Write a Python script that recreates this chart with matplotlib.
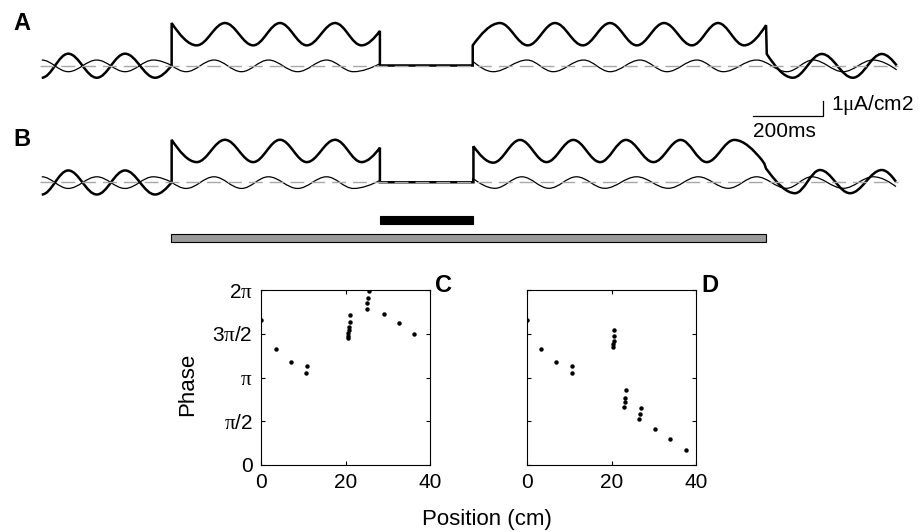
import numpy as np
import matplotlib
matplotlib.use('Agg')
import matplotlib.pyplot as plt
from matplotlib.path import Path
from matplotlib.patches import PathPatch

plt.rcParams['font.family'] = ['Liberation Sans', 'DejaVu Sans']
plt.rcParams['mathtext.fontset'] = 'custom'
plt.rcParams['mathtext.rm'] = 'Liberation Sans'
plt.rcParams['mathtext.it'] = 'Liberation Serif'

# ---- traces (time in ms, current in uA/cm2 relative to baseline) ----
# segment kinds: c = smooth half cycle, r = smooth start / steep end,
# d = steep start / smooth end, l = straight line
thickA_t = [5, 80, 161, 241, 326, 373, 373, 444, 524, 604, 680, 756, 836, 911, 963, 963,
            1226, 1226, 1303, 1382, 1459, 1538, 1615, 1691, 1768, 1847, 1921, 1995, 2057, 2059,
            2133, 2215, 2303, 2385, 2427]
thickA_i = [-0.85, 0.82, -0.85, 0.82, -0.85, 0.0, 2.95, 1.4, 2.95, 1.4, 2.95, 1.4, 2.95, 1.4, 2.4, 0.0,
            0.0, 1.4, 2.95, 1.4, 2.95, 1.4, 2.95, 1.4, 2.95, 1.4, 2.95, 1.4, 2.8, 0.8,
            -0.85, 0.8, -0.85, 0.8, 0.0]
thickA_k = 'cccc' + 'rld' + 'cccccc' + 'rlll' + 'd' + 'ccccccccc' + 'rld' + 'ccc' + 'r'

thinA_t = [5, 80, 161, 241, 321, 373, 414, 493, 571, 647, 730, 812, 888, 961, 963, 1226, 1226,
           1284, 1380, 1454, 1540, 1615, 1700, 1776, 1861, 1936, 2030, 2116, 2190, 2275, 2360, 2427]
thinA_i = [0.38, -0.43, 0.38, -0.43, 0.38, 0.0, -0.43, 0.38, -0.43, 0.38, -0.43, 0.38, -0.43, 0.1, 0.0, 0.0, 0.3,
           -0.43, 0.38, -0.43, 0.38, -0.43, 0.38, -0.43, 0.38, -0.43, 0.38, -0.43, 0.38, -0.43, 0.38, -0.3]
thin_k = 'cccc' + 'rd' + 'cccccc' + 'rlll' + 'd' + 'ccccccccccccc' + 'r'

thickB_t = [5, 80, 161, 241, 326, 373, 373, 444, 524, 604, 680, 756, 836, 911, 963, 963,
            1228, 1228, 1284, 1360, 1435, 1511, 1587, 1660, 1738, 1815, 1889, 1967, 2045, 2052,
            2057, 2068, 2139, 2210, 2295, 2385, 2425]
thickB_i = [-0.85, 0.82, -0.85, 0.82, -0.85, 0.0, 2.95, 1.4, 2.95, 1.4, 2.95, 1.4, 2.95, 1.4, 2.4, 0.0,
            0.0, 2.5, 1.36, 2.94, 1.4, 2.94, 1.4, 2.94, 1.4, 2.94, 1.4, 2.94, 1.55, 1.3,
            0.95, 0.6, -0.76, 0.85, -0.76, 0.85, 0.04]
thickB_k = 'cccc' + 'rld' + 'cccccc' + 'rll' + 'ld' + 'ccccccccc' + 'rlll' + 'd' + 'ccc' + 'r'

thinB_t = [5, 80, 161, 241, 321, 373, 414, 493, 571, 647, 730, 812, 888, 961, 963, 1226, 1226,
           1289, 1365, 1442, 1520, 1600, 1690, 1780, 1865, 1950, 2030, 2115, 2186, 2276, 2361, 2425]
thinB_i = [0.38, -0.43, 0.38, -0.43, 0.38, 0.0, -0.43, 0.38, -0.43, 0.38, -0.43, 0.38, -0.43, 0.1, 0.0, 0.0, 0.28,
           -0.42, 0.38, -0.42, 0.38, -0.42, 0.38, -0.42, 0.38, -0.42, 0.38, -0.42, 0.38, -0.42, 0.38, -0.3]

# field extents (ms)
short_field = [963, 1227]
long_field = [371, 2057]

# ---- phase precession data (position cm, phase in units of pi) ----
C_pos = [0, 3.5, 7.0, 10.8, 10.7,
         21.1, 21.0, 20.9, 20.8, 20.7, 20.6, 20.5,
         25.6, 25.4, 25.2, 25.0,
         29.0, 32.6, 36.3]
C_phase = [1.657, 1.329, 1.173, 1.128, 1.048,
           1.714, 1.638, 1.581, 1.543, 1.505, 1.478, 1.448,
           1.989, 1.905, 1.848, 1.783,
           1.726, 1.627, 1.497]
D_pos = [0, 3.3, 6.9, 10.7, 10.7,
         20.7, 20.6, 20.5, 20.4, 20.4,
         23.4, 23.2, 23.1, 23.0,
         27.0, 26.8, 26.6,
         30.3, 33.9, 37.6]
D_phase = [1.657, 1.329, 1.173, 1.128, 1.048,
           1.539, 1.474, 1.421, 1.383, 1.345,
           0.854, 0.770, 0.717, 0.667,
           0.655, 0.579, 0.522,
           0.408, 0.301, 0.175]

phase_ticks = [0, 0.5, 1, 1.5, 2]
phase_labels = ['0', r'$\pi$/2', r'$\pi$', r'3$\pi$/2', r'2$\pi$']
pos_ticks = [0, 20, 40]


def trace_path(t, v, kinds, shift):
    verts = [(t[0], v[0] + shift)]
    codes = [Path.MOVETO]
    for k, x0, y0, x1, y1 in zip(kinds, t[:-1], v[:-1], t[1:], v[1:]):
        y0 += shift
        y1 += shift
        dx, dy = x1 - x0, y1 - y0
        if k == 'l':
            verts.append((x1, y1))
            codes.append(Path.LINETO)
            continue
        if k == 'c':
            c1, c2 = (x0 + 0.364 * dx, y0), (x1 - 0.364 * dx, y1)
        elif k == 'r':
            c1, c2 = (x0 + 0.35 * dx, y0), (x0 + 0.7 * dx, y0 + 0.5 * dy)
        else:
            c1, c2 = (x0 + 0.3 * dx, y0 + 0.5 * dy), (x0 + 0.65 * dx, y1)
        verts += [c1, c2, (x1, y1)]
        codes += [Path.CURVE4] * 3
    return Path(verts, codes)


W, H = 919, 532
fig = plt.figure(figsize=(W / 100, H / 100), dpi=100)

# traces axes: x in ms, y in uA/cm2
ax = fig.add_axes([0, 1 - 260 / H, 1, 260 / H])
ax.set_xlim(-113.3, 2490.3)
ax.set_ylim(-13.51, 4.55)
ax.axis('off')

offB = -8.11
for off, tk, ik, kk, tn, inn in [(0, thickA_t, thickA_i, thickA_k, thinA_t, thinA_i),
                                 (offB, thickB_t, thickB_i, thickB_k, thinB_t, thinB_i)]:
    ax.add_patch(PathPatch(trace_path(tn, inn, thin_k, off), fill=False, lw=0.9,
                           edgecolor='k', joinstyle='miter', zorder=2))
    ax.add_patch(PathPatch(trace_path(tk, ik, kk, off), fill=False, lw=1.8,
                           edgecolor='k', joinstyle='miter', zorder=3))
    ax.plot([0, 2430], [off, off], color='#a8a8a8', lw=1.0, ls=(0, (10, 5)), zorder=4)

# field bars
ax.barh(-10.73, short_field[1] - short_field[0], left=short_field[0], height=0.56,
        color='k', edgecolor='k', lw=0.8)
ax.barh(-11.98, long_field[1] - long_field[0], left=long_field[0], height=0.56,
        color='#9a9a9a', edgecolor='k', lw=0.8)

# scale bar: 200 ms, 1 uA/cm2
ax.plot([2019, 2219, 2219], [-3.49, -3.49, -2.49], color='k', lw=0.9)
ax.text(2240, -2.72, r'1$\mu$A/cm2', fontsize=15, va='center', ha='left')
ax.text(2021, -4.55, '200ms', fontsize=15, va='center', ha='left')

fig.text(13 / W, 1 - 24 / H, 'A', fontsize=17, fontweight='bold', va='center', ha='left')
fig.text(13 / W, 1 - 140 / H, 'B', fontsize=17, fontweight='bold', va='center', ha='left')

# phase panels
for left, pos, ph, letter, show_y in [(261, C_pos, C_phase, 'C', True),
                                      (527, D_pos, D_phase, 'D', False)]:
    pax = fig.add_axes([left / W, 1 - 465 / H, 169 / W, 175 / H])
    pax.plot(pos, np.array(ph) * np.pi, 'o', ms=3.2, color='k', mec='k', mew=0)
    pax.set_xlim(0, 40)
    pax.set_ylim(0, 2 * np.pi)
    pax.set_xticks(pos_ticks)
    pax.set_yticks(np.array(phase_ticks) * np.pi)
    if show_y:
        pax.set_yticklabels(phase_labels)
    else:
        pax.set_yticklabels([])
    pax.tick_params(direction='in', top=True, right=True, length=3, width=0.8,
                    labelsize=15, pad=6)
    for s in pax.spines.values():
        s.set_linewidth(0.8)
    fig.text((left + 174) / W, 1 - 286 / H, letter, fontsize=17, fontweight='bold',
             va='center', ha='left')

fig.text(188 / W, 1 - 384 / H, 'Phase', fontsize=16, rotation=90, va='center', ha='center')
fig.text(487 / W, 1 - 519 / H, 'Position (cm)', fontsize=16, va='center', ha='center')

fig.savefig('out.png', dpi=100)
